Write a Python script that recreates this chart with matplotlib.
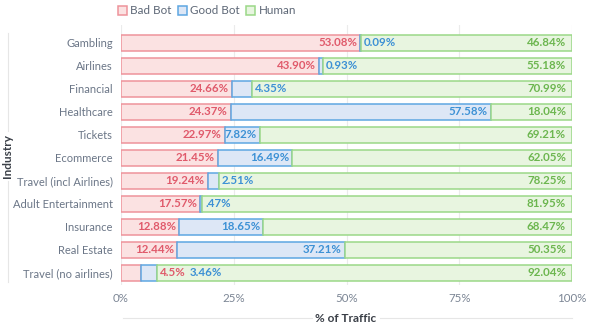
import matplotlib
matplotlib.use("Agg")
import matplotlib.pyplot as plt
from matplotlib.patches import Patch
from matplotlib.lines import Line2D

plt.rcParams['font.family'] = ['Lato', 'DejaVu Sans']

industries = ["Gambling", "Airlines", "Financial", "Healthcare", "Tickets", "Ecommerce",
              "Travel (incl Airlines)", "Adult Entertainment", "Insurance", "Real Estate",
              "Travel (no airlines)"]
bad_bot = [53.08, 43.90, 24.66, 24.37, 22.97, 21.45, 19.24, 17.57, 12.88, 12.44, 4.5]
good_bot = [0.09, 0.93, 4.35, 57.58, 7.82, 16.49, 2.51, 0.47, 18.65, 37.21, 3.46]
human = [46.84, 55.18, 70.99, 18.04, 69.21, 62.05, 78.25, 81.95, 68.47, 50.35, 92.04]
bad_labels = ["53.08%", "43.90%", "24.66%", "24.37%", "22.97%", "21.45%", "19.24%",
              "17.57%", "12.88%", "12.44%", "4.5%"]
good_labels = ["0.09%", "0.93%", "4.35%", "57.58%", "7.82%", "16.49%", "2.51%",
               ".47%", "18.65%", "37.21%", "3.46%"]
human_labels = ["46.84%", "55.18%", "70.99%", "18.04%", "69.21%", "62.05%", "78.25%",
                "81.95%", "68.47%", "50.35%", "92.04%"]
x_ticks = [0, 25, 50, 75, 100]
x_ticklabels = ["0%", "25%", "50%", "75%", "100%"]
series_names = ["Bad Bot", "Good Bot", "Human"]

fills = ['#fbe2e2', '#dde7f6', '#e8f5e0']
edges = ['#ee939b', '#5ea7e2', '#9bd888']
txtc = ['#e05a6b', '#3d91d5', '#6cb64f']

W, H = 590, 326
fig = plt.figure(figsize=(W / 100, H / 100), dpi=100)
ax_left, ax_right = 121 / W, 572 / W
ax_top, ax_bot = 1 - 25 / H, 1 - 284.5 / H
ax = fig.add_axes([ax_left, ax_bot, ax_right - ax_left, ax_top - ax_bot])

n = len(industries)
ys = list(range(n))
bh = 0.7
lw = 1.1
lefts_good = [b for b in bad_bot]
lefts_human = [b + g for b, g in zip(bad_bot, good_bot)]
ax.barh(ys, bad_bot, height=bh, color=fills[0], edgecolor=edges[0], linewidth=lw, zorder=3)
ax.barh(ys, good_bot, left=lefts_good, height=bh, color=fills[1], edgecolor=edges[1], linewidth=lw, zorder=3)
ax.barh(ys, human, left=lefts_human, height=bh, color=fills[2], edgecolor=edges[2], linewidth=lw, zorder=3)

ax.set_xlim(0, 100)
ax.set_ylim(n - 0.5, -0.78)
ax.set_yticks(ys)
ax.set_yticklabels(industries, fontsize=8, color='#6b7687')
ax.set_xticks(x_ticks)
ax.set_xticklabels(x_ticklabels, fontsize=8.3, color='#7b8594')
ax.tick_params(axis='both', length=0)
ax.tick_params(axis='y', pad=6)
ax.tick_params(axis='x', pad=6)
for s in ax.spines.values():
    s.set_visible(False)
ax.grid(axis='x', color='#ebebeb', linewidth=0.8, zorder=0)
ax.set_axisbelow(True)

fs = 8.3
thr = 7.0
for i in range(n):
    b, g = bad_bot[i], good_bot[i]
    bend, gend = b, b + g
    off = 3
    if b >= thr:
        ax.annotate(bad_labels[i], (bend, i), xytext=(-3, 0), textcoords='offset pixels',
                    ha='right', va='center', fontsize=fs, fontweight='bold', color=txtc[0], zorder=5)
    else:
        ax.annotate(bad_labels[i], (gend, i), xytext=(off, 0), textcoords='offset pixels',
                    ha='left', va='center', fontsize=fs, fontweight='bold', color=txtc[0], zorder=5)
        off = 33
    if g >= thr:
        ax.annotate(good_labels[i], (gend, i), xytext=(-3, 0), textcoords='offset pixels',
                    ha='right', va='center', fontsize=fs, fontweight='bold', color=txtc[1], zorder=5)
    else:
        ax.annotate(good_labels[i], (gend, i), xytext=(off, 0), textcoords='offset pixels',
                    ha='left', va='center', fontsize=fs, fontweight='bold', color=txtc[1], zorder=5)
    ax.annotate(human_labels[i], (100, i), xytext=(-6, 0), textcoords='offset pixels',
                ha='right', va='center', fontsize=fs, fontweight='bold', color=txtc[2], zorder=5)

# axis titles with decorative lines
fig.text(346 / W, 1 - 318 / H, "% of Traffic", ha='center', va='center', fontsize=8.5,
         fontweight='bold', color='#3a3f47')
ly = 1 - 318 / H
fig.add_artist(Line2D([123 / W, 312 / W], [ly, ly], color='#e6e6e6', lw=0.8))
fig.add_artist(Line2D([380 / W, 572 / W], [ly, ly], color='#e6e6e6', lw=0.8))

fig.text(8 / W, 1 - 156 / H, "Industry", ha='center', va='center', rotation=90, fontsize=8.5,
         fontweight='bold', color='#3a3f47')
lx = 8 / W
fig.add_artist(Line2D([lx, lx], [1 - 33 / H, 1 - 131 / H], color='#e6e6e6', lw=0.8))
fig.add_artist(Line2D([lx, lx], [1 - 181 / H, 1 - 282 / H], color='#e6e6e6', lw=0.8))

handles = [Patch(facecolor=fills[k], edgecolor=edges[k], linewidth=1.1, label=series_names[k])
           for k in range(3)]
fig.legend(handles=handles, loc='center', bbox_to_anchor=(207 / W, 1 - 11 / H), ncol=3,
           frameon=False, fontsize=8.4, handlelength=0.75, handleheight=0.75, handletextpad=0.3,
           columnspacing=0.55, labelcolor='#5d6776', borderaxespad=0, borderpad=0)

fig.savefig("out.png", dpi=100, facecolor='white')
